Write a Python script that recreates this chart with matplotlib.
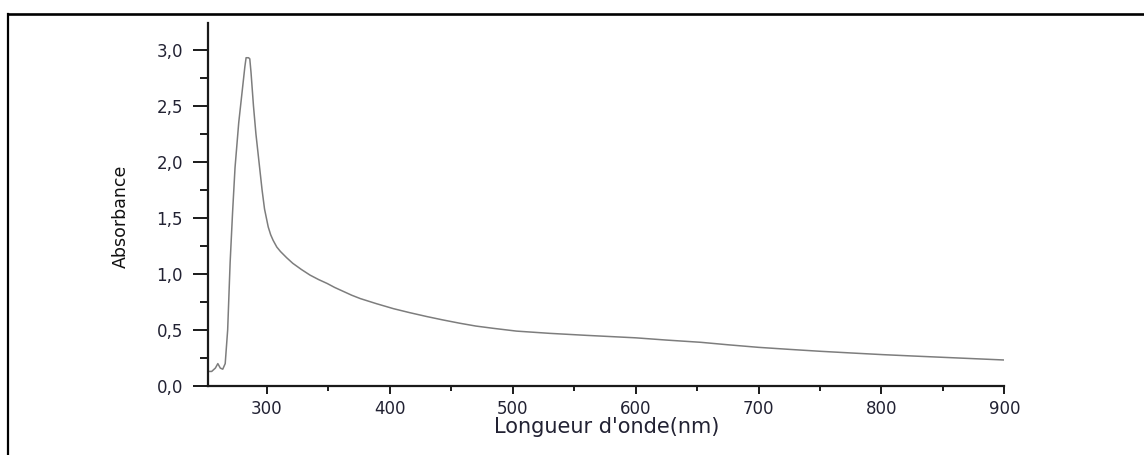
import matplotlib
matplotlib.use("Agg")
import matplotlib.pyplot as plt
from matplotlib.ticker import MultipleLocator, FuncFormatter
from matplotlib.lines import Line2D

# UV-Vis absorption spectrum
wavelength_nm = [252, 255, 258, 260, 262, 264, 266, 268, 270, 272, 274, 277,
                 280, 282, 283, 284, 285, 286, 287, 289, 291, 293, 296, 298,
                 301, 303, 305, 308, 311, 316, 321, 328, 335, 342, 349, 355,
                 362, 369, 376, 389, 403, 416, 430, 443, 457, 470, 484, 503,
                 530, 560, 600, 625, 653, 675, 700, 725, 750, 775, 801, 825,
                 850, 875, 900]
absorbance = [0.13, 0.13, 0.16, 0.20, 0.16, 0.15, 0.20, 0.50, 1.10, 1.55, 1.95, 2.35,
              2.65, 2.85, 2.93, 2.93, 2.93, 2.92, 2.80, 2.50, 2.25, 2.05, 1.75, 1.58,
              1.42, 1.35, 1.30, 1.24, 1.20, 1.145, 1.095, 1.04, 0.99, 0.95, 0.915, 0.88,
              0.845, 0.81, 0.78, 0.735, 0.69, 0.655, 0.62, 0.59, 0.56, 0.535, 0.515, 0.49,
              0.47, 0.452, 0.43, 0.41, 0.39, 0.368, 0.345, 0.327, 0.31, 0.295, 0.28, 0.268,
              0.256, 0.244, 0.232]

x_label = "Longueur d'onde(nm)"
y_label = "Absorbance"

W, H = 1144, 455
fig = plt.figure(figsize=(W / 100, H / 100), dpi=100)
fig.patch.set_facecolor("white")

ax = fig.add_axes([208 / W, 69 / H, (1004.3 - 208) / W, (432 - 69) / H])
ax.plot(wavelength_nm, absorbance, color="#7d7d7d", lw=1.1)

ax.set_xlim(252, 900)
ax.set_ylim(0, 3.24)
for side in ("top", "right"):
    ax.spines[side].set_visible(False)
for side in ("left", "bottom"):
    ax.spines[side].set_linewidth(1.6)
    ax.spines[side].set_color("#1a1a1a")

ax.xaxis.set_major_locator(MultipleLocator(100))
ax.xaxis.set_minor_locator(MultipleLocator(50))
ax.yaxis.set_major_locator(MultipleLocator(0.5))
ax.yaxis.set_minor_locator(MultipleLocator(0.25))
ax.yaxis.set_major_formatter(FuncFormatter(lambda v, p: f"{v:.1f}".replace(".", ",")))

ax.tick_params(axis="x", which="major", length=6, width=1.4, color="#1a1a1a",
               pad=4, labelsize=12, labelcolor="#222233")
ax.tick_params(axis="x", which="minor", length=3.5, width=1.4, color="#1a1a1a")
ax.tick_params(axis="y", which="major", length=11, width=1.4, color="#1a1a1a",
               pad=7, labelsize=12, labelcolor="#222233")
ax.tick_params(axis="y", which="minor", length=6, width=1.4, color="#1a1a1a")
for lab in ax.get_xticklabels() + ax.get_yticklabels():
    lab.set_family("DejaVu Sans")

fig.text(607 / W, 1 - 427 / H, x_label, ha="center", va="center",
         fontsize=15, family="DejaVu Sans", color="#222233")
fig.text(121 / W, 1 - 216 / H, y_label, ha="center", va="center", rotation=90,
         fontsize=12.5, family="DejaVu Sans", color="#111111")

# outer frame, open on the right and bottom
fig.add_artist(Line2D([8.3 / W, 1.0], [1 - 13.8 / H, 1 - 13.8 / H],
                      transform=fig.transFigure, color="black", lw=1.9))
fig.add_artist(Line2D([8.3 / W, 8.3 / W], [1 - 13.8 / H, 0.0],
                      transform=fig.transFigure, color="black", lw=1.6))

fig.savefig("out.png", dpi=100, facecolor="white")
